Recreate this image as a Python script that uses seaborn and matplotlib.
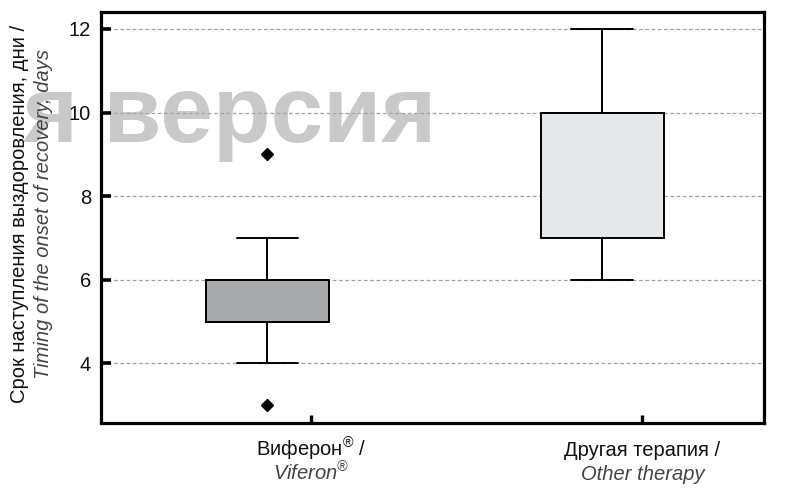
import matplotlib
matplotlib.use("Agg")
import matplotlib.pyplot as plt
import pandas as pd
import seaborn as sns

groups = ["Виферон$^{®}$ /", "Другая терапия /"]
groups_en = ["Viferon$^{®}$", "Other therapy"]
viferon_days = [3, 4, 5, 5, 5, 5, 5, 6, 6, 6, 6, 7, 9]
other_days = [6, 7, 7, 10, 10, 10, 10, 11, 12]
yticks = [4, 6, 8, 10, 12]
box_colors = ["#a7a9ac", "#e6e7e8"]

ylabel_ru = "Срок наступления выздоровления, дни /"
ylabel_en = "Timing of the onset of recovery, days"
watermark = "я версия"

sns.set_theme(style="white")
plt.rcParams["font.family"] = ["Liberation Sans", "DejaVu Sans"]
plt.rcParams["mathtext.fontset"] = "custom"
plt.rcParams["mathtext.rm"] = "Liberation Sans"
plt.rcParams["mathtext.it"] = "Liberation Sans:italic"
plt.rcParams["mathtext.default"] = "regular"


def main():
    df = pd.DataFrame({
        "group": [groups[0]] * len(viferon_days) + [groups[1]] * len(other_days),
        "days": viferon_days + other_days,
    })

    fig = plt.figure(figsize=(8, 4.92), dpi=100, facecolor="white")
    ax = fig.add_axes([0.126, 0.14, 0.829, 0.836])
    ax.set_facecolor("none")

    fig.text(0.546, 0.711, watermark, ha="right", va="baseline", fontsize=68,
             fontweight="bold", color="#c9c9c9", zorder=-1)

    sns.boxplot(data=df, x="group", y="days", hue="group", palette=box_colors,
                width=0.367, linecolor="black", linewidth=1.4, fliersize=6,
                flierprops=dict(marker="D", markerfacecolor="black",
                                markeredgecolor="black"),
                legend=False, ax=ax)

    ax.set_xlim(-0.497, 1.483)
    ax.set_ylim(2.57, 12.41)
    ax.set_yticks(yticks)
    ax.set_yticklabels([str(v) for v in yticks], fontsize=14.5, color="#111111")

    tick_pos = [0.132, 1.12]
    ax.set_xticks(tick_pos)
    ax.set_xticklabels(["", ""])
    ax.xaxis.set_tick_params(which="major", bottom=True, direction="in",
                             length=6, width=2.4, color="black")
    ax.yaxis.set_tick_params(which="major", left=True, direction="in",
                             length=7, width=2.6, color="black", pad=7)

    ax.yaxis.grid(True, linestyle=(0, (3, 2)), color="#a3a3a3", linewidth=0.9)
    ax.set_axisbelow(True)
    for sp in ax.spines.values():
        sp.set_visible(True)
        sp.set_color("black")
        sp.set_linewidth(2.3)

    ax.set_xlabel("")
    ax.set_ylabel("")

    for pos, ru, en in zip(tick_pos, groups, groups_en):
        ax.annotate(ru, xy=(pos, 0), xycoords=("data", "axes fraction"),
                    xytext=(0, -24), textcoords="offset points",
                    ha="center", va="baseline", fontsize=14.5, color="#111111")
        ax.annotate(en, xy=(pos, 0), xycoords=("data", "axes fraction"),
                    xytext=(0, -41), textcoords="offset points",
                    ha="center", va="baseline", fontsize=14.5, style="italic",
                    color="#444444")

    fig.text(0.0245, 0.565, ylabel_ru, rotation=90, ha="center", va="center",
             fontsize=14.5, color="#111111")
    fig.text(0.0545, 0.565, ylabel_en, rotation=90, ha="center", va="center",
             fontsize=14.5, style="italic", color="#444444")

    fig.savefig("out.png", dpi=100, facecolor="white")


if __name__ == "__main__":
    main()
